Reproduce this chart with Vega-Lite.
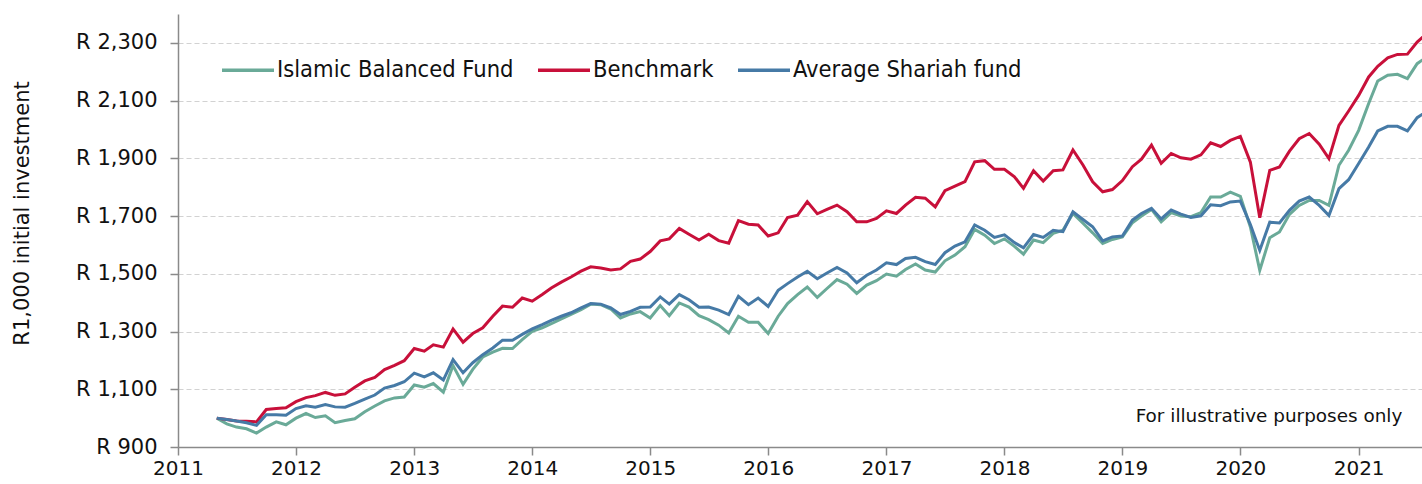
{
"$schema": "https://vega.github.io/schema/vega-lite/v6.json",
"width": 1244, "height": 433,
"autosize": {"type": "none"},
"padding": {"left": 178, "top": 14, "right": 0, "bottom": 37},
"background": "white",
"config": {"view": {"stroke": null}, "font": "DejaVu Sans"},
"data": {"values": [
{"date":"2011-05-01","Islamic Balanced Fund":1000,"Benchmark":1000,"Average Shariah fund":1000},
{"date":"2011-06-01","Islamic Balanced Fund":980,"Benchmark":995,"Average Shariah fund":995},
{"date":"2011-07-01","Islamic Balanced Fund":969,"Benchmark":990,"Average Shariah fund":990},
{"date":"2011-08-01","Islamic Balanced Fund":963,"Benchmark":989,"Average Shariah fund":984},
{"date":"2011-09-01","Islamic Balanced Fund":948,"Benchmark":987,"Average Shariah fund":975},
{"date":"2011-10-01","Islamic Balanced Fund":969,"Benchmark":1030,"Average Shariah fund":1012},
{"date":"2011-11-01","Islamic Balanced Fund":987,"Benchmark":1033,"Average Shariah fund":1012},
{"date":"2011-12-01","Islamic Balanced Fund":977,"Benchmark":1036,"Average Shariah fund":1010},
{"date":"2012-01-01","Islamic Balanced Fund":1000,"Benchmark":1057,"Average Shariah fund":1033},
{"date":"2012-02-01","Islamic Balanced Fund":1016,"Benchmark":1071,"Average Shariah fund":1043},
{"date":"2012-03-01","Islamic Balanced Fund":1002,"Benchmark":1078,"Average Shariah fund":1038},
{"date":"2012-04-01","Islamic Balanced Fund":1008,"Benchmark":1089,"Average Shariah fund":1047},
{"date":"2012-05-01","Islamic Balanced Fund":984,"Benchmark":1079,"Average Shariah fund":1039},
{"date":"2012-06-01","Islamic Balanced Fund":992,"Benchmark":1084,"Average Shariah fund":1038},
{"date":"2012-07-01","Islamic Balanced Fund":998,"Benchmark":1107,"Average Shariah fund":1051},
{"date":"2012-08-01","Islamic Balanced Fund":1022,"Benchmark":1129,"Average Shariah fund":1066},
{"date":"2012-09-01","Islamic Balanced Fund":1042,"Benchmark":1141,"Average Shariah fund":1080},
{"date":"2012-10-01","Islamic Balanced Fund":1060,"Benchmark":1168,"Average Shariah fund":1104},
{"date":"2012-11-01","Islamic Balanced Fund":1070,"Benchmark":1183,"Average Shariah fund":1113},
{"date":"2012-12-01","Islamic Balanced Fund":1073,"Benchmark":1199,"Average Shariah fund":1126},
{"date":"2013-01-01","Islamic Balanced Fund":1115,"Benchmark":1241,"Average Shariah fund":1156},
{"date":"2013-02-01","Islamic Balanced Fund":1107,"Benchmark":1232,"Average Shariah fund":1143},
{"date":"2013-03-01","Islamic Balanced Fund":1120,"Benchmark":1254,"Average Shariah fund":1157},
{"date":"2013-04-01","Islamic Balanced Fund":1090,"Benchmark":1246,"Average Shariah fund":1132},
{"date":"2013-05-01","Islamic Balanced Fund":1182,"Benchmark":1309,"Average Shariah fund":1203},
{"date":"2013-06-01","Islamic Balanced Fund":1117,"Benchmark":1263,"Average Shariah fund":1157},
{"date":"2013-07-01","Islamic Balanced Fund":1169,"Benchmark":1293,"Average Shariah fund":1192},
{"date":"2013-08-01","Islamic Balanced Fund":1212,"Benchmark":1313,"Average Shariah fund":1220},
{"date":"2013-09-01","Islamic Balanced Fund":1229,"Benchmark":1353,"Average Shariah fund":1243},
{"date":"2013-10-01","Islamic Balanced Fund":1242,"Benchmark":1388,"Average Shariah fund":1270},
{"date":"2013-11-01","Islamic Balanced Fund":1241,"Benchmark":1384,"Average Shariah fund":1270},
{"date":"2013-12-01","Islamic Balanced Fund":1272,"Benchmark":1416,"Average Shariah fund":1290},
{"date":"2014-01-01","Islamic Balanced Fund":1301,"Benchmark":1405,"Average Shariah fund":1309},
{"date":"2014-02-01","Islamic Balanced Fund":1313,"Benchmark":1428,"Average Shariah fund":1324},
{"date":"2014-03-01","Islamic Balanced Fund":1327,"Benchmark":1451,"Average Shariah fund":1339},
{"date":"2014-04-01","Islamic Balanced Fund":1344,"Benchmark":1471,"Average Shariah fund":1353},
{"date":"2014-05-01","Islamic Balanced Fund":1359,"Benchmark":1489,"Average Shariah fund":1365},
{"date":"2014-06-01","Islamic Balanced Fund":1376,"Benchmark":1509,"Average Shariah fund":1382},
{"date":"2014-07-01","Islamic Balanced Fund":1395,"Benchmark":1524,"Average Shariah fund":1397},
{"date":"2014-08-01","Islamic Balanced Fund":1393,"Benchmark":1520,"Average Shariah fund":1395},
{"date":"2014-09-01","Islamic Balanced Fund":1378,"Benchmark":1513,"Average Shariah fund":1382},
{"date":"2014-10-01","Islamic Balanced Fund":1347,"Benchmark":1517,"Average Shariah fund":1359},
{"date":"2014-11-01","Islamic Balanced Fund":1361,"Benchmark":1543,"Average Shariah fund":1370},
{"date":"2014-12-01","Islamic Balanced Fund":1369,"Benchmark":1551,"Average Shariah fund":1384},
{"date":"2015-01-01","Islamic Balanced Fund":1347,"Benchmark":1577,"Average Shariah fund":1385},
{"date":"2015-02-01","Islamic Balanced Fund":1390,"Benchmark":1614,"Average Shariah fund":1420},
{"date":"2015-03-01","Islamic Balanced Fund":1355,"Benchmark":1621,"Average Shariah fund":1395},
{"date":"2015-04-01","Islamic Balanced Fund":1399,"Benchmark":1657,"Average Shariah fund":1428},
{"date":"2015-05-01","Islamic Balanced Fund":1385,"Benchmark":1637,"Average Shariah fund":1410},
{"date":"2015-06-01","Islamic Balanced Fund":1355,"Benchmark":1617,"Average Shariah fund":1384},
{"date":"2015-07-01","Islamic Balanced Fund":1341,"Benchmark":1637,"Average Shariah fund":1385},
{"date":"2015-08-01","Islamic Balanced Fund":1322,"Benchmark":1615,"Average Shariah fund":1374},
{"date":"2015-09-01","Islamic Balanced Fund":1295,"Benchmark":1606,"Average Shariah fund":1359},
{"date":"2015-10-01","Islamic Balanced Fund":1353,"Benchmark":1684,"Average Shariah fund":1422},
{"date":"2015-11-01","Islamic Balanced Fund":1332,"Benchmark":1672,"Average Shariah fund":1393},
{"date":"2015-12-01","Islamic Balanced Fund":1332,"Benchmark":1669,"Average Shariah fund":1416},
{"date":"2016-01-01","Islamic Balanced Fund":1293,"Benchmark":1631,"Average Shariah fund":1387},
{"date":"2016-02-01","Islamic Balanced Fund":1353,"Benchmark":1642,"Average Shariah fund":1443},
{"date":"2016-03-01","Islamic Balanced Fund":1397,"Benchmark":1695,"Average Shariah fund":1466},
{"date":"2016-04-01","Islamic Balanced Fund":1428,"Benchmark":1703,"Average Shariah fund":1489},
{"date":"2016-05-01","Islamic Balanced Fund":1454,"Benchmark":1750,"Average Shariah fund":1509},
{"date":"2016-06-01","Islamic Balanced Fund":1418,"Benchmark":1708,"Average Shariah fund":1483},
{"date":"2016-07-01","Islamic Balanced Fund":1449,"Benchmark":1723,"Average Shariah fund":1503},
{"date":"2016-08-01","Islamic Balanced Fund":1480,"Benchmark":1738,"Average Shariah fund":1522},
{"date":"2016-09-01","Islamic Balanced Fund":1464,"Benchmark":1715,"Average Shariah fund":1503},
{"date":"2016-10-01","Islamic Balanced Fund":1432,"Benchmark":1680,"Average Shariah fund":1469},
{"date":"2016-11-01","Islamic Balanced Fund":1461,"Benchmark":1680,"Average Shariah fund":1495},
{"date":"2016-12-01","Islamic Balanced Fund":1476,"Benchmark":1692,"Average Shariah fund":1513},
{"date":"2017-01-01","Islamic Balanced Fund":1499,"Benchmark":1718,"Average Shariah fund":1538},
{"date":"2017-02-01","Islamic Balanced Fund":1492,"Benchmark":1709,"Average Shariah fund":1532},
{"date":"2017-03-01","Islamic Balanced Fund":1515,"Benchmark":1738,"Average Shariah fund":1553},
{"date":"2017-04-01","Islamic Balanced Fund":1534,"Benchmark":1765,"Average Shariah fund":1557},
{"date":"2017-05-01","Islamic Balanced Fund":1513,"Benchmark":1762,"Average Shariah fund":1542},
{"date":"2017-06-01","Islamic Balanced Fund":1506,"Benchmark":1732,"Average Shariah fund":1532},
{"date":"2017-07-01","Islamic Balanced Fund":1545,"Benchmark":1788,"Average Shariah fund":1573},
{"date":"2017-08-01","Islamic Balanced Fund":1565,"Benchmark":1804,"Average Shariah fund":1596},
{"date":"2017-09-01","Islamic Balanced Fund":1594,"Benchmark":1819,"Average Shariah fund":1611},
{"date":"2017-10-01","Islamic Balanced Fund":1654,"Benchmark":1888,"Average Shariah fund":1669},
{"date":"2017-11-01","Islamic Balanced Fund":1634,"Benchmark":1892,"Average Shariah fund":1651},
{"date":"2017-12-01","Islamic Balanced Fund":1605,"Benchmark":1862,"Average Shariah fund":1626},
{"date":"2018-01-01","Islamic Balanced Fund":1621,"Benchmark":1862,"Average Shariah fund":1635},
{"date":"2018-02-01","Islamic Balanced Fund":1595,"Benchmark":1836,"Average Shariah fund":1608},
{"date":"2018-03-01","Islamic Balanced Fund":1568,"Benchmark":1796,"Average Shariah fund":1590},
{"date":"2018-04-01","Islamic Balanced Fund":1617,"Benchmark":1857,"Average Shariah fund":1636},
{"date":"2018-05-01","Islamic Balanced Fund":1608,"Benchmark":1821,"Average Shariah fund":1626},
{"date":"2018-06-01","Islamic Balanced Fund":1640,"Benchmark":1857,"Average Shariah fund":1651},
{"date":"2018-07-01","Islamic Balanced Fund":1651,"Benchmark":1860,"Average Shariah fund":1646},
{"date":"2018-08-01","Islamic Balanced Fund":1709,"Benchmark":1929,"Average Shariah fund":1715},
{"date":"2018-09-01","Islamic Balanced Fund":1675,"Benchmark":1877,"Average Shariah fund":1688},
{"date":"2018-10-01","Islamic Balanced Fund":1642,"Benchmark":1819,"Average Shariah fund":1663},
{"date":"2018-11-01","Islamic Balanced Fund":1605,"Benchmark":1784,"Average Shariah fund":1614},
{"date":"2018-12-01","Islamic Balanced Fund":1619,"Benchmark":1792,"Average Shariah fund":1628},
{"date":"2019-01-01","Islamic Balanced Fund":1628,"Benchmark":1823,"Average Shariah fund":1631},
{"date":"2019-02-01","Islamic Balanced Fund":1677,"Benchmark":1871,"Average Shariah fund":1686},
{"date":"2019-03-01","Islamic Balanced Fund":1700,"Benchmark":1897,"Average Shariah fund":1709},
{"date":"2019-04-01","Islamic Balanced Fund":1723,"Benchmark":1946,"Average Shariah fund":1727},
{"date":"2019-05-01","Islamic Balanced Fund":1680,"Benchmark":1883,"Average Shariah fund":1690},
{"date":"2019-06-01","Islamic Balanced Fund":1712,"Benchmark":1917,"Average Shariah fund":1721},
{"date":"2019-07-01","Islamic Balanced Fund":1700,"Benchmark":1902,"Average Shariah fund":1707},
{"date":"2019-08-01","Islamic Balanced Fund":1698,"Benchmark":1897,"Average Shariah fund":1695},
{"date":"2019-09-01","Islamic Balanced Fund":1712,"Benchmark":1912,"Average Shariah fund":1701},
{"date":"2019-10-01","Islamic Balanced Fund":1766,"Benchmark":1954,"Average Shariah fund":1739},
{"date":"2019-11-01","Islamic Balanced Fund":1766,"Benchmark":1941,"Average Shariah fund":1736},
{"date":"2019-12-01","Islamic Balanced Fund":1783,"Benchmark":1962,"Average Shariah fund":1749},
{"date":"2020-01-01","Islamic Balanced Fund":1768,"Benchmark":1976,"Average Shariah fund":1752},
{"date":"2020-02-01","Islamic Balanced Fund":1662,"Benchmark":1887,"Average Shariah fund":1671},
{"date":"2020-03-01","Islamic Balanced Fund":1512,"Benchmark":1694,"Average Shariah fund":1581},
{"date":"2020-04-01","Islamic Balanced Fund":1625,"Benchmark":1858,"Average Shariah fund":1679},
{"date":"2020-05-01","Islamic Balanced Fund":1645,"Benchmark":1870,"Average Shariah fund":1676},
{"date":"2020-06-01","Islamic Balanced Fund":1706,"Benchmark":1925,"Average Shariah fund":1720},
{"date":"2020-07-01","Islamic Balanced Fund":1737,"Benchmark":1968,"Average Shariah fund":1752},
{"date":"2020-08-01","Islamic Balanced Fund":1754,"Benchmark":1986,"Average Shariah fund":1766},
{"date":"2020-09-01","Islamic Balanced Fund":1754,"Benchmark":1949,"Average Shariah fund":1737},
{"date":"2020-10-01","Islamic Balanced Fund":1737,"Benchmark":1899,"Average Shariah fund":1702},
{"date":"2020-11-01","Islamic Balanced Fund":1876,"Benchmark":2014,"Average Shariah fund":1795},
{"date":"2020-12-01","Islamic Balanced Fund":1928,"Benchmark":2064,"Average Shariah fund":1826},
{"date":"2021-01-01","Islamic Balanced Fund":1997,"Benchmark":2118,"Average Shariah fund":1882},
{"date":"2021-02-01","Islamic Balanced Fund":2090,"Benchmark":2182,"Average Shariah fund":1939},
{"date":"2021-03-01","Islamic Balanced Fund":2168,"Benchmark":2219,"Average Shariah fund":1995},
{"date":"2021-04-01","Islamic Balanced Fund":2188,"Benchmark":2248,"Average Shariah fund":2011},
{"date":"2021-05-01","Islamic Balanced Fund":2191,"Benchmark":2260,"Average Shariah fund":2011},
{"date":"2021-06-01","Islamic Balanced Fund":2176,"Benchmark":2261,"Average Shariah fund":1995},
{"date":"2021-07-01","Islamic Balanced Fund":2228,"Benchmark":2303,"Average Shariah fund":2041},
{"date":"2021-08-01","Islamic Balanced Fund":2252,"Benchmark":2333,"Average Shariah fund":2063}
]},
"layer": [
{
"transform": [{"fold": ["Islamic Balanced Fund", "Benchmark", "Average Shariah fund"], "as": ["series", "value"]}],
"mark": {"type": "line", "strokeWidth": 3, "clip": true},
"encoding": {
"x": {"field": "date", "type": "temporal",
 "scale": {"type": "utc", "domain": [{"year": 2011, "month": 1, "date": 1, "utc": true}, {"year": 2021, "month": 7, "date": 16, "utc": true}]},
 "axis": {"title": null, "format": "%Y", "tickCount": {"interval": "year", "step": 1}, "labelFontSize": 20, "labelColor": "#111", "labelFont": "DejaVu Sans", "tickSize": 8, "tickColor": "#8a8a8a", "tickWidth": 1.5, "domainColor": "#8a8a8a", "domainWidth": 1.5, "labelPadding": 3, "grid": false, "labelFlush": false, "labelOverlap": false}},
"y": {"field": "value", "type": "quantitative",
 "scale": {"domain": [900, 2400], "nice": false, "zero": false},
 "axis": {"title": "R1,000 initial investment", "values": [900, 1100, 1300, 1500, 1700, 1900, 2100, 2300], "labelExpr": "'R ' + format(datum.value, ',')", "labelFontSize": 21, "labelColor": "#111", "labelFont": "DejaVu Sans", "tickSize": 8, "tickColor": "#8a8a8a", "tickWidth": 1.5, "labelPadding": 13, "domainColor": "#8a8a8a", "domainWidth": 1.5, "grid": true, "gridDash": [5, 3], "gridColor": "#d2d2d2", "gridWidth": 1.2, "titleFontSize": 21, "titleFontWeight": "normal", "titleFont": "DejaVu Sans", "titleColor": "#111", "titleX": -156, "titleY": 199, "titleBaseline": "middle", "titleAngle": -90}},
"color": {"field": "series", "type": "nominal",
 "scale": {"domain": ["Islamic Balanced Fund", "Benchmark", "Average Shariah fund"], "range": ["#6aaa98", "#c8103a", "#467aa6"]},
 "legend": {"orient": "none", "legendX": 42, "legendY": 28, "direction": "horizontal", "title": null, "symbolType": "stroke", "symbolSize": 2704, "symbolStrokeWidth": 3.5, "labelFontSize": 23.5, "labelFont": "DejaVu Sans Condensed", "labelColor": "#111", "columnPadding": 17, "labelOffset": 1, "padding": 0, "labelLimit": 400}}
}
},
{
"data": {"values": [{}]},
"mark": {"type": "text", "text": "For illustrative purposes only", "align": "right", "baseline": "middle", "fontSize": 18.4, "font": "DejaVu Sans", "color": "#111"},
"encoding": {
"x": {"datum": {"year": 2021, "month": 5, "date": 16, "utc": true}, "type": "temporal"},
"y": {"datum": 1008, "type": "quantitative"}
}
}
]
}
